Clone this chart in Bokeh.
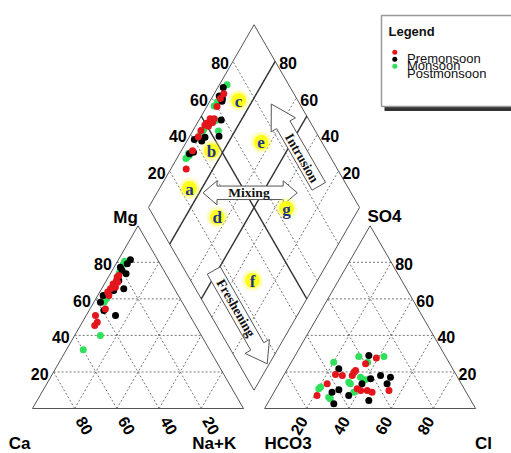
import numpy as np
from bokeh.plotting import figure
from bokeh.models import Range1d
from bokeh.core.properties import value
from bokeh.embed import file_html
from bokeh.resources import INLINE

# ---------------- data (percent of meq/L) ----------------
series_names = ["Premonsoon", "Monsoon", "Postmonsoon"]
series_colors = ["#e3161c", "#000000", "#2ee05a"]

pre_mg  = [72.8, 70.0, 67.3, 66.4, 65.5, 63.7, 61.8, 54.5, 50.9, 47.2, 45.4, 71.9, 68.2, 69.1]
pre_nak = [4.5, 4.8, 4.9, 6.1, 4.2, 3.8, 5.3, 7.3, 4.4, 7.1, 6.8, 4.2, 4.1, 5.8]
pre_so4 = [27.7, 24.5, 20.8, 18.1, 18.6, 18.1, 13.5, 7.1, 9.9, 9.9, 8.9, 9.9, 10.8, 19.9]
pre_cl  = [39.1, 35.6, 32.7, 32.5, 24.3, 27.8, 22.9, 21.3, 40.6, 43.7, 46.5, 54.0, 38.5, 32.4]

mon_mg  = [81.4, 73.7, 65.5, 50.9, 61.8, 53.6, 77.3, 70.0, 64.6, 75.5, 58.2, 79.2]
mon_nak = [5.7, 7.5, 10.5, 13.9, 2.6, 7.0, 3.0, 5.9, 6.2, 4.7, 3.1, 5.3]
mon_so4 = [29.0, 21.7, 16.3, 13.5, 17.1, 7.1, 18.1, 4.4, 8.9, 2.6, 10.2, 13.5]
mon_cl  = [34.9, 24.3, 42.1, 39.4, 51.1, 36.3, 45.9, 47.2, 27.5, 31.5, 30.1, 51.3]

post_mg  = [80.6, 78.8, 75.9, 72.2, 66.4, 60.0, 58.2, 39.9, 32.1, 64.6, 58.7, 79.5, 74.0]
post_nak = [3.3, 3.6, 3.7, 4.3, 4.6, 5.1, 4.7, 12.2, 8.0, 4.7, 4.7, 4.3, 4.1]
post_so4 = [28.5, 28.5, 25.3, 25.3, 11.7, 6.2, 13.5, 17.1, 15.7, 8.9, 14.4, 10.8, 5.3]
post_cl  = [30.4, 42.3, 36.2, 20.1, 20.7, 27.3, 33.9, 36.9, 39.9, 37.8, 32.7, 20.3, 28.5]

tick_values = [20, 40, 60, 80]
tick_labels = ["20", "40", "60", "80"]

# facies labels in diamond coordinates (Cl+SO4 %, Ca+Mg %)
facies_text = ["a", "b", "c", "d", "e", "f", "g"]
facies_an   = [24.6, 45.4, 72.0, 29.9, 71.2, 29.3, 65.1]
facies_cat  = [85.8, 85.7, 86.6, 64.8, 64.5, 30.8, 34.4]

# ---------------- geometry ----------------
S3 = np.sqrt(3) / 2
SC = 2.11          # px per unit
X0, Y0 = 32, 408   # pixel of the origin (Ca corner)
GAP = 10
BX, BY = 100 + GAP / 2, GAP * S3   # diamond bottom vertex
W, H = 511, 453


def pd(px, py):
    return (px - X0) / SC, (Y0 - py) / SC


def cat_xy(mg, nak):
    mg = np.asarray(mg, float); nak = np.asarray(nak, float)
    return nak + 0.5 * mg, S3 * mg


def an_xy(so4, cl):
    so4 = np.asarray(so4, float); cl = np.asarray(cl, float)
    return 100 + GAP + cl + 0.5 * so4, S3 * so4


def dia_ab(a, b):
    a = np.asarray(a, float); b = np.asarray(b, float)
    return BX + 0.5 * a - 0.5 * b, BY + S3 * (a + b)


def dia_xy(nak, so4, cl):
    b = 100 - np.asarray(nak, float)
    a = np.asarray(so4, float) + np.asarray(cl, float)
    return dia_ab(a, b)


xr = Range1d((0 - X0) / SC, (W - X0) / SC)
yr = Range1d((Y0 - H) / SC, (Y0 - 0) / SC)
p = figure(width=W, height=H, x_range=xr, y_range=yr, output_backend="svg",
           toolbar_location=None, min_border=0, x_axis_location=None, y_axis_location=None,
           outline_line_color=None, background_fill_color="white")
p.grid.visible = False

GRID = dict(line_color="#555555", line_width=0.8, line_dash="2 2")
EDGE = dict(line_color="#555555", line_width=1.0)

# ---- grids ----
gx, gy = [], []
o = 100 + GAP
for v in tick_values:
    gx += [[0.5 * v, 100 - 0.5 * v], [v, v + 0.5 * (100 - v)], [100 - v, 0.5 * (100 - v)]]
    gy += [[S3 * v, S3 * v], [0, S3 * (100 - v)], [0, S3 * (100 - v)]]
    gx += [[o + 0.5 * v, o + 100 - 0.5 * v], [o + v, o + v + 0.5 * (100 - v)], [o + 100 - v, o + 0.5 * (100 - v)]]
    gy += [[S3 * v, S3 * v], [0, S3 * (100 - v)], [0, S3 * (100 - v)]]
    x1, y1 = dia_ab([v, v], [0, 100]); gx.append(list(x1)); gy.append(list(y1))
    x2, y2 = dia_ab([0, 100], [v, v]); gx.append(list(x2)); gy.append(list(y2))
p.multi_line(gx, gy, **GRID)

# ---- outlines ----
dx, dy = dia_ab([0, 100, 100, 0, 0], [0, 0, 100, 100, 0])
p.multi_line([[0, 100, 50, 0], [o, o + 100, o + 50, o], list(dx)],
             [[0, 0, 100 * S3, 0], [0, 0, 100 * S3, 0], list(dy)], **EDGE)

# ---- facies boundary lines (solid) ----
sx, sy = [], []
for (a0, a1, b0, b1) in [(0, 100, 80, 80), (0, 100, 50, 50), (50, 50, 0, 100)]:
    xx, yy = dia_ab([a0, a1], [b0, b1]); sx.append(list(xx)); sy.append(list(yy))
p.multi_line(sx, sy, line_color="#333333", line_width=1.4)


# ---- block arrows ----
def arrow_poly(tail, tip, sw, hw, hl, double=False):
    t = np.array(tail, float); h = np.array(tip, float)
    u = (h - t) / np.linalg.norm(h - t); n = np.array([-u[1], u[0]])
    hb = h - u * hl
    if double:
        tb = t + u * hl
        pts = [t, tb + n * hw / 2, tb + n * sw / 2, hb + n * sw / 2, hb + n * hw / 2, h,
               hb - n * hw / 2, hb - n * sw / 2, tb - n * sw / 2, tb - n * hw / 2]
    else:
        pts = [t + n * sw / 2, hb + n * sw / 2, hb + n * hw / 2, h, hb - n * hw / 2,
               hb - n * sw / 2, t - n * sw / 2]
    d = [pd(*q) for q in pts]
    return [q[0] for q in d], [q[1] for q in d]


arrows = [arrow_poly((202.5, 192.3), (296.7, 192.3), 13.5, 24, 14, double=True),
          arrow_poly((318.3, 185.8), (270.8, 103.5), 15.5, 28, 24),
          arrow_poly((213.3, 270.0), (266.7, 363.3), 15.0, 28, 20)]
p.patches([a[0] for a in arrows], [a[1] for a in arrows], fill_color="white",
          line_color="#555555", line_width=1.0)

SERIF = value("Liberation Serif")
SANS = value("Liberation Sans")
ax_, ay_ = zip(*[pd(248.5, 192.3), pd(301.5, 157.5), pd(235.5, 307.5)])
p.text(list(ax_), list(ay_), text=["Mixing", "Intrusion", "Freshening"], angle=[0, -60, -60],
       angle_units="deg", text_font=SERIF, text_font_style="bold", text_font_size="13.5px",
       text_align="center", text_baseline="middle", text_color="#111111")

# ---- facies labels ----
fx, fy = dia_ab(facies_an, facies_cat)
p.scatter(fx, fy, size=21, fill_color="#ffff40", line_color=None, fill_alpha=0.35)
p.scatter(fx, fy, size=15, fill_color="#ffff1a", line_color=None, fill_alpha=1.0)
p.text(fx, fy - 0.3, text=facies_text, text_font=SERIF, text_font_style="bold",
       text_font_size="17px", text_align="center", text_baseline="middle", text_color="#1c3591")

# ---- tick labels ----
TICK = dict(text_font=SANS, text_font_style="bold", text_font_size="16px", text_color="#000000")
tv = np.array(tick_values, float)
off = lambda dpx, dpy: (dpx / SC, -dpy / SC)
ox, oy = off(-5, 2)
p.text(0.5 * tv + ox, S3 * tv + oy, text=tick_labels, text_align="right", text_baseline="middle", **TICK)
ox, oy = off(4, 2)
p.text(o + 100 - 0.5 * tv + ox, S3 * tv + oy, text=tick_labels, text_align="left", text_baseline="middle", **TICK)
xx, yy = dia_ab(tv, np.full(4, 100.0)); ox, oy = off(-4, 2)
p.text(xx + ox, yy + oy, text=tick_labels, text_align="right", text_baseline="middle", **TICK)
xx, yy = dia_ab(np.full(4, 100.0), tv); ox, oy = off(4, 2)
p.text(xx + ox, yy + oy, text=tick_labels, text_align="left", text_baseline="middle", **TICK)
ox, oy = off(10, 17)
p.text(100 - tv + ox, np.zeros(4) + oy, text=tick_labels, angle=-60, angle_units="deg",
       text_align="center", text_baseline="middle", **TICK)
ox, oy = off(-8, 17)
p.text(o + tv + ox, np.zeros(4) + oy, text=tick_labels, angle=60, angle_units="deg",
       text_align="center", text_baseline="middle", **TICK)

# ---- corner names ----
names = ["Ca", "Na+K", "HCO3", "Cl", "Mg", "SO4"]
npos = [pd(19, 443), pd(213.7, 443), pd(287.5, 443), pd(483, 443), pd(125, 216.5), pd(384, 215.5)]
p.text([q[0] for q in npos], [q[1] for q in npos], text=names, text_font=SANS,
       text_font_style="bold", text_font_size="17px", text_align="center", text_baseline="middle",
       text_color="#000000")

# ---- data points ----
series = [(pre_mg, pre_nak, pre_so4, pre_cl), (mon_mg, mon_nak, mon_so4, mon_cl),
          (post_mg, post_nak, post_so4, post_cl)]
for i in [2, 1, 0]:
    mg, nak, so4, cl = series[i]
    cx, cy = cat_xy(mg, nak)
    axx, ayy = an_xy(so4, cl)
    dxx, dyy = dia_xy(nak, so4, cl)
    xs = np.concatenate([cx, axx, dxx]); ys = np.concatenate([cy, ayy, dyy])
    p.scatter(xs, ys, size=7, fill_color=series_colors[i], line_color=None)

# ---- legend box ----
l, t = pd(381, 15); r, b = pd(530, 106)
sl, st = pd(384, 106); sr, sb = pd(530, 110.5)
p.quad(left=[sl], right=[sr], top=[st], bottom=[sb], fill_color="#333333", line_color=None)
p.quad(left=[l], right=[r], top=[t], bottom=[b], fill_color="white", line_color="#999999", line_width=1.5)
lx, ly = pd(388, 31)
p.text([lx], [ly], text=["Legend"], text_font=SANS, text_font_style="bold", text_font_size="13px",
       text_baseline="middle", text_color="#111111")
dots = [pd(394.3, 51.7), pd(394.3, 58.7), pd(394.3, 65.7)]
p.scatter([q[0] for q in dots], [q[1] for q in dots], size=5, fill_color=series_colors, line_color=None)
labs = [pd(406.5, 58.3), pd(406.5, 64.5), pd(406.5, 72.8)]
p.text([q[0] for q in labs], [q[1] for q in labs], text=series_names, text_font=SANS,
       text_font_size="13px", text_baseline="alphabetic", text_color="#111111")

open("out.html", "w").write(file_html(p, INLINE))
